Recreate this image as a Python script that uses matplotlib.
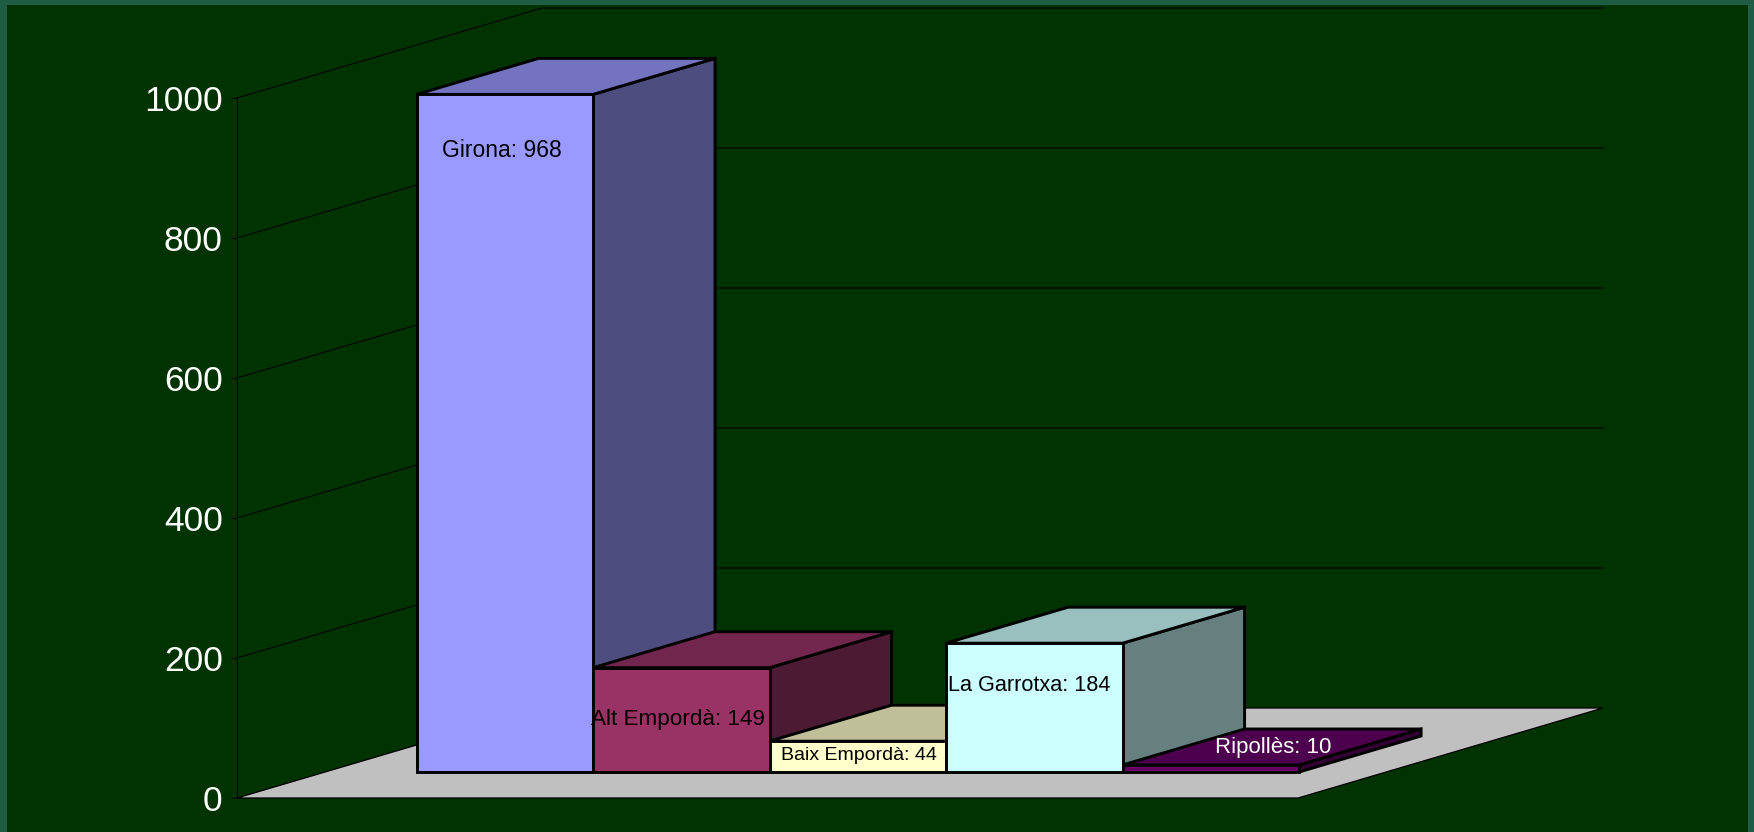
import matplotlib
matplotlib.use("Agg")
from matplotlib import pyplot as plt
from matplotlib.patches import Rectangle

comarques = ["Girona", "Alt Empordà", "Baix Empordà", "La Garrotxa", "Ripollès"]
valors = [968, 149, 44, 184, 10]
ticks = [0, 200, 400, 600, 800, 1000]

front_cols = ["#9999FF", "#993366", "#FFFFCC", "#CCFFFF", "#660066"]
top_cols = ["#7373BF", "#73264D", "#BFBF99", "#99BFBF", "#4D004D"]
side_cols = ["#4D4D80", "#4D1A33", "#808066", "#668080", "#330033"]
label_cols = ["black", "black", "black", "black", "white"]
label_sizes = [16.5, 16.2, 14, 15.6, 16]
label_off = [(-3, -56), (-3, -52), (1, -14), (-5, -42), (62, 17)]

W, H = 1754, 832
plt.rcParams["font.family"] = ["Liberation Sans", "DejaVu Sans"]

fig = plt.figure(figsize=(W / 100, H / 100), dpi=100, facecolor="#1F5C44")
fig.add_artist(Rectangle((7 / W, 0), 1741 / W, 827 / H, transform=fig.transFigure,
                         facecolor="#003300", edgecolor="none", zorder=-1))

ax = fig.add_axes([237 / W, 34 / H, 1061 / W, 700 / H])
ax.patch.set_visible(False)
xmin, xmax = -1.018, 4.993
ax.set_xlim(xmin, xmax)
ax.set_ylim(0, 1000)

# oblique depth: z=1 is the back wall
unit_x = 1061 / (xmax - xmin)
DX = 305 / unit_x
DY = 90 / 0.7
z0 = 26 / 90
z1 = 62 / 90


def proj(x, y, z):
    return x + z * DX, y + z * DY


def face(pts, col, lw, zo):
    xs = [p[0] for p in pts]
    ys = [p[1] for p in pts]
    ax.fill(xs, ys, facecolor=col, edgecolor="black", linewidth=lw,
            joinstyle="miter", clip_on=False, zorder=zo)


# floor
face([proj(xmin, 0, 0), proj(xmax, 0, 0), proj(xmax, 0, 1), proj(xmin, 0, 1)], "#C0C0C0", 0.9, 1)

# walls
for t in ticks[1:]:
    x1, y1 = proj(xmin, t, 0)
    x2, y2 = proj(xmin, t, 1)
    x3, y3 = proj(xmax, t, 1)
    ax.plot([x1, x2, x3], [y1, y2, y3], color="black", lw=0.72, clip_on=False, zorder=1.5)

for i, v in enumerate(valors):
    zo = 3 + i
    l, r = i - 0.5, i + 0.5
    # side, then top, then the front through ax.bar
    face([proj(r, 0, z0), proj(r, 0, z1), proj(r, v, z1), proj(r, v, z0)], side_cols[i], 2.1, zo)
    face([proj(l, v, z0), proj(r, v, z0), proj(r, v, z1), proj(l, v, z1)], top_cols[i], 2.1, zo)
    fx, fy = proj(i, 0, z0)
    ax.bar(fx, v, width=1, bottom=fy, color=front_cols[i], edgecolor="black", linewidth=2.1,
           clip_on=False, zorder=zo)

for i, v in enumerate(valors):
    ax.annotate(f"{comarques[i]}: {v}", xy=proj(i, v, z0), xytext=label_off[i],
                textcoords="offset pixels", ha="center", va="center",
                fontsize=label_sizes[i], color=label_cols[i], annotation_clip=False, zorder=20)

ax.set_xticks([])
ax.set_yticks(ticks)
ax.tick_params(axis="y", length=4.3, width=0.72, color="black", pad=6, labelcolor="white", labelsize=25.5)
for s in ["top", "right", "bottom"]:
    ax.spines[s].set_visible(False)
ax.spines["left"].set_linewidth(0.72)
ax.spines["left"].set_color("black")

fig.savefig("out.png", dpi=100, facecolor=fig.get_facecolor())
